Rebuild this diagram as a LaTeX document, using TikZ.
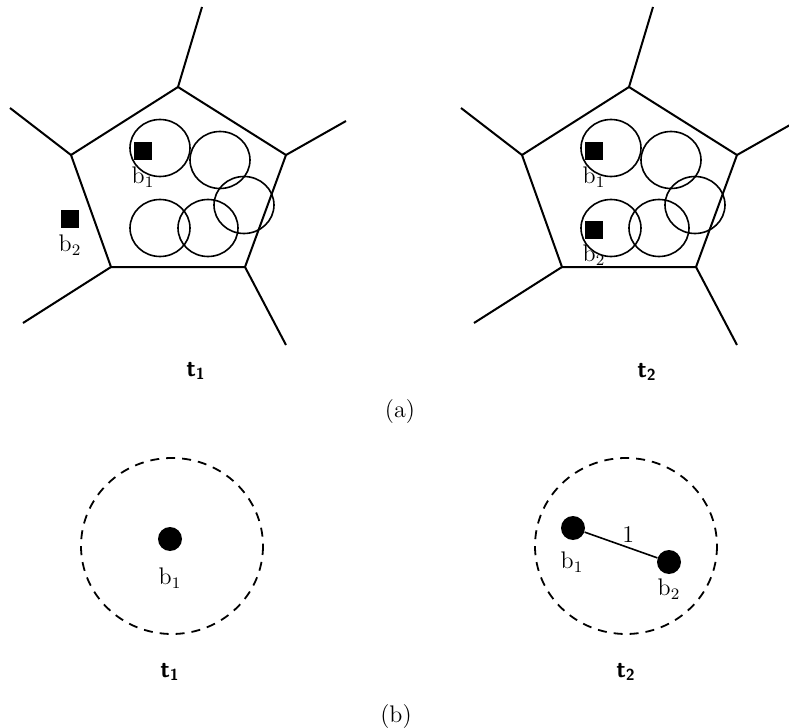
\documentclass[tikz,border=0pt]{standalone}
\usepackage{tikz}
\usetikzlibrary{calc,positioning}

\begin{document}
\begin{tikzpicture}[
    x=0.5pt, y=-0.5pt,
    cell/.style={line width=1pt, black},
    sensrange/.style={line width=0.8pt, black},
    hull/.style={line width=0.9pt, dash pattern=on 4.5pt off 3.5pt},
    link/.style={line width=0.8pt, black},
    sensor/.style={rectangle, fill=black, minimum size=9pt, inner sep=0pt},
    vertex/.style={circle, fill=black, minimum width=11.5pt, minimum height=12pt, inner sep=0pt},
    blabel/.style={font=\large, inner sep=0pt},
    tlabel/.style={font=\large\sffamily\bfseries, inner sep=0pt},
    caption/.style={font=\large, inner sep=0pt},
]

\clip (0,0) rectangle (789,728);

% Voronoi cell at t1
\coordinate (a-top) at (178,87);
\coordinate (a-right) at (286,155);
\coordinate (a-br) at (245,267);
\coordinate (a-bl) at (111,267);
\coordinate (a-left) at (71,155);
\coordinate (a-top-end) at (202,7);
\coordinate (a-right-end) at (346,121);
\coordinate (a-br-end) at (286,345);
\coordinate (a-bl-end) at (23,323);
\coordinate (a-left-end) at (10,108);
\draw[cell] (a-top) -- (a-right) -- (a-br) -- (a-bl) -- (a-left) -- cycle;
\draw[cell] (a-top) -- (a-top-end);
\draw[cell] (a-right) -- (a-right-end);
\draw[cell] (a-br) -- (a-br-end);
\draw[cell] (a-bl) -- (a-bl-end);
\draw[cell] (a-left) -- (a-left-end);
\draw[sensrange] (160,148) ellipse [x radius=30, y radius=28.5];
\draw[sensrange] (220,160) ellipse [x radius=30, y radius=28.5];
\draw[sensrange] (244,205) ellipse [x radius=30, y radius=28.5];
\draw[sensrange] (160,228) ellipse [x radius=30, y radius=28.5];
\draw[sensrange] (208,228) ellipse [x radius=30, y radius=28.5];
\node[sensor] (a-b1) at (143,151) {};
\node[blabel] (a-b1-lbl) at (143,177) {$\mathrm{b}_1$};
\node[sensor] (a-b2) at (70,219) {};
\node[blabel] (a-b2-lbl) at (70,245) {$\mathrm{b}_2$};
\node[tlabel] (a-t) at (196,371) {t\textsubscript{1}};

% Voronoi cell at t2
\begin{scope}[shift={(451,0)}]
\coordinate (b-top) at (178,87);
\coordinate (b-right) at (286,155);
\coordinate (b-br) at (245,267);
\coordinate (b-bl) at (111,267);
\coordinate (b-left) at (71,155);
\coordinate (b-top-end) at (202,7);
\coordinate (b-right-end) at (346,121);
\coordinate (b-br-end) at (286,345);
\coordinate (b-bl-end) at (23,323);
\coordinate (b-left-end) at (10,108);
\draw[cell] (b-top) -- (b-right) -- (b-br) -- (b-bl) -- (b-left) -- cycle;
\draw[cell] (b-top) -- (b-top-end);
\draw[cell] (b-right) -- (b-right-end);
\draw[cell] (b-br) -- (b-br-end);
\draw[cell] (b-bl) -- (b-bl-end);
\draw[cell] (b-left) -- (b-left-end);
\draw[sensrange] (160,148) ellipse [x radius=30, y radius=28.5];
\draw[sensrange] (220,160) ellipse [x radius=30, y radius=28.5];
\draw[sensrange] (244,205) ellipse [x radius=30, y radius=28.5];
\draw[sensrange] (160,228) ellipse [x radius=30, y radius=28.5];
\draw[sensrange] (208,228) ellipse [x radius=30, y radius=28.5];
\node[sensor] (b-b1) at (143,151) {};
\node[blabel] (b-b1-lbl) at (143,177) {$\mathrm{b}_1$};
\node[sensor] (b-b2) at (143,230) {};
\node[blabel] (b-b2-lbl) at (143,255) {$\mathrm{b}_2$};
\node[tlabel] (b-t) at (196,372) {t\textsubscript{2}};
\end{scope}

\node[caption] (cap-a) at (400,412) {(a)};

% Graph at t1
\draw[hull] (172,546) ellipse [x radius=91, y radius=88];
\node[vertex] (c-b1) at (170,539) {};
\node[blabel] (c-b1-lbl) at (170,578) {$\mathrm{b}_1$};
\node[tlabel] (c-t) at (170,672) {t\textsubscript{1}};

% Graph at t2
\draw[hull] (626,546) ellipse [x radius=91, y radius=88];
\node[vertex] (d-b1) at (573,528) {};
\node[vertex] (d-b2) at (669,562) {};
\draw[link] (d-b1) -- node[blabel, pos=0.6, above=2pt] (d-w) {1} (d-b2);
\node[blabel] (d-b1-lbl) at (572,562) {$\mathrm{b}_1$};
\node[blabel] (d-b2-lbl) at (669,589) {$\mathrm{b}_2$};
\node[tlabel] (d-t) at (626,672) {t\textsubscript{2}};

\node[caption] (cap-b) at (396,717) {(b)};

\end{tikzpicture}
\end{document}
